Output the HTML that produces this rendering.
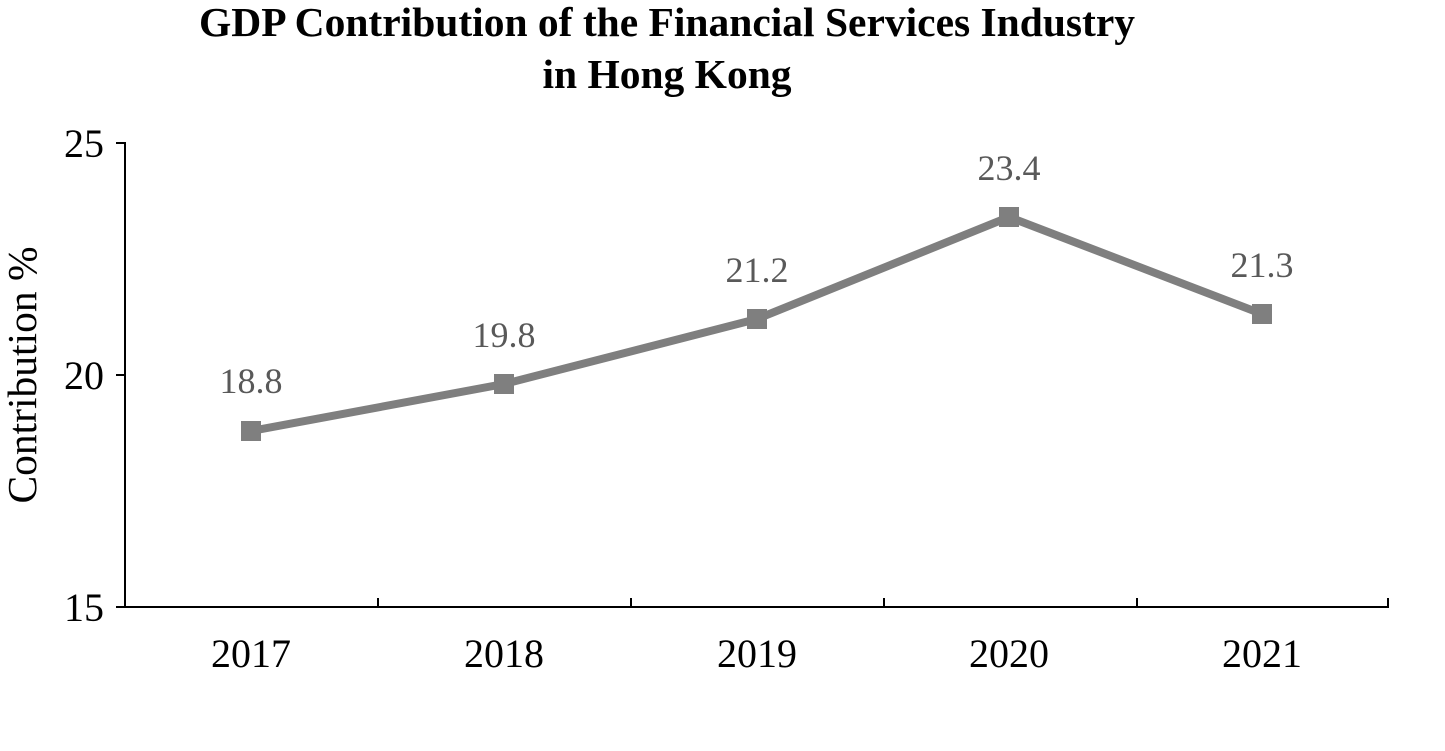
<!DOCTYPE html>
<html><head><style>body{margin:0;background:#fff}svg{display:block}</style></head>
<body>
<svg width="1445" height="751" xmlns="http://www.w3.org/2000/svg" font-family="'Liberation Serif', serif">
<text x="667" y="36" text-anchor="middle" font-size="41.5" font-weight="bold">GDP Contribution of the Financial Services Industry</text>
<text x="667" y="88" text-anchor="middle" font-size="41.5" font-weight="bold">in Hong Kong</text>
<g stroke="#000" stroke-width="2">
<line x1="125" y1="142" x2="125" y2="607"/>
<line x1="124" y1="607" x2="1389" y2="607"/>
<line x1="116" y1="143" x2="125" y2="143"/>
<line x1="116" y1="375" x2="125" y2="375"/>
<line x1="116" y1="607" x2="125" y2="607"/>
<line x1="378" y1="598" x2="378" y2="607"/>
<line x1="631" y1="598" x2="631" y2="607"/>
<line x1="884" y1="598" x2="884" y2="607"/>
<line x1="1137" y1="598" x2="1137" y2="607"/>
<line x1="1388" y1="598" x2="1388" y2="607"/>
</g>
<g font-size="40" text-anchor="end">
<text x="104" y="157">25</text>
<text x="104" y="389">20</text>
<text x="104" y="621">15</text>
</g>
<g font-size="40" text-anchor="middle">
<text x="251" y="667">2017</text>
<text x="504" y="667">2018</text>
<text x="757" y="667">2019</text>
<text x="1009" y="667">2020</text>
<text x="1262" y="667">2021</text>
</g>
<text transform="translate(36,375) rotate(-90)" font-size="41.5" text-anchor="middle">Contribution %</text>
<polyline points="251,431 504,384 757,319 1009,217 1262,314" fill="none" stroke="#7f7f7f" stroke-width="8" stroke-linejoin="round"/>
<g fill="#7f7f7f">
<rect x="241" y="421" width="20" height="20"/>
<rect x="494" y="374" width="20" height="20"/>
<rect x="747" y="309" width="20" height="20"/>
<rect x="999" y="207" width="20" height="20"/>
<rect x="1252" y="304" width="20" height="20"/>
</g>
<g font-size="36" text-anchor="middle" fill="#595959">
<text x="251" y="393">18.8</text>
<text x="504" y="347">19.8</text>
<text x="757" y="282">21.2</text>
<text x="1009" y="180">23.4</text>
<text x="1262" y="277">21.3</text>
</g>
</svg>
</body></html>
